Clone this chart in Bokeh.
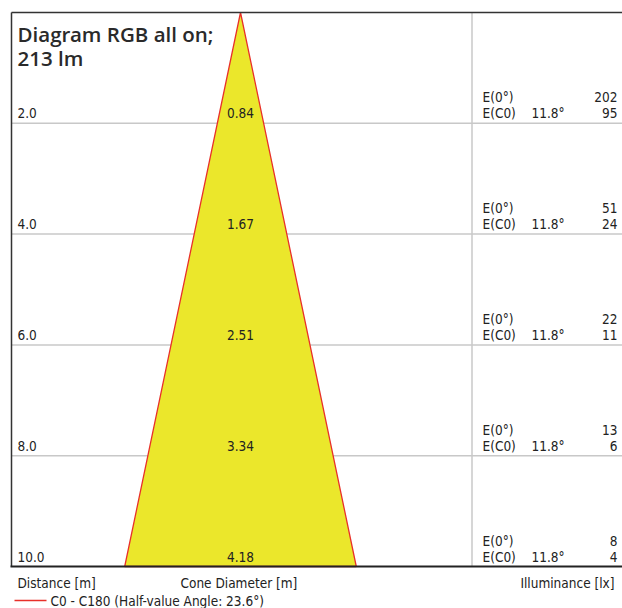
from bokeh.plotting import figure
from bokeh.models import Range1d, ColumnDataSource
from bokeh.core.properties import value
from bokeh.embed import file_html
from bokeh.resources import INLINE

# ---- data ----
title_lines = ["Diagram RGB all on;", "213 lm"]
distances = [2.0, 4.0, 6.0, 8.0, 10.0]
distance_labels = ["2.0", "4.0", "6.0", "8.0", "10.0"]
diameters = [0.84, 1.67, 2.51, 3.34, 4.18]
diameter_labels = ["0.84", "1.67", "2.51", "3.34", "4.18"]
e_0 = [202, 51, 22, 13, 8]
e_c0 = [95, 24, 11, 6, 4]
half_angle_label = "11.8°"
legend_label = "C0 - C180 (Half-value Angle: 23.6°)"
axis_labels = ["Distance [m]", "Cone Diameter [m]", "Illuminance [lx]"]

W, H = 622, 608
PX = 55.4  # pixels per metre
x0 = -240 / PX
x1 = x0 + W / PX
y_top = -12 / PX
y_bot = y_top + H / PX

def sx(px):
    return x0 + px / PX

p = figure(width=W, height=H, output_backend="svg", toolbar_location=None,
           x_range=Range1d(x0, x1), y_range=Range1d(y_bot, y_top),
           min_border=0, outline_line_color=None)
p.axis.visible = False
p.grid.visible = False
p.background_fill_color = "white"
p.border_fill_color = "white"

left_x = sx(11)
right_x = x1
sep_x = sx(471.5)
dmax = distances[-1]
FONT = value("DejaVu Sans Condensed")

# grid lines
for d in distances[:-1]:
    p.line([left_x, right_x], [d, d], line_color="#c8c8c8", line_width=1.5)
# separator
p.line([sep_x, sep_x], [0, dmax], line_color="#c8c8c8", line_width=1.5)

# cone
half = diameters[-1] / 2
p.patch([0, -half, half], [0, dmax, dmax], fill_color="#ebe72b",
        line_color="#e8302a", line_width=1.3)

# frame
p.line([left_x, left_x], [0, dmax], line_color="#333333", line_width=1.5)
p.line([left_x, right_x], [0, 0], line_color="#333333", line_width=1.5)
p.line([sx(10), right_x], [dmax, dmax], line_color="#222222", line_width=2)

# title
p.text(x=[sx(17)] * 2, y=[0, 0], text=title_lines, y_offset=[21, 45],
       text_font=value("Open Sans SemiBold, Open Sans"), text_font_size="20.5px",
       text_color="#2a2a2a", text_baseline="alphabetic")

n = len(distances)
src = ColumnDataSource(dict(
    d=distances, dl=distance_labels, dia=diameter_labels,
    e0=[str(v) for v in e_0], ec=[str(v) for v in e_c0],
    lx=[sx(17)] * n, cx=[0] * n, ex=[sx(482)] * n,
    ax=[sx(531)] * n, vx=[sx(617)] * n,
    l0=["E(0°)"] * n, lc=["E(C0)"] * n, ang=[half_angle_label] * n))

common = dict(text_font=FONT, text_font_size="13.5px", text_color="#222222",
              text_baseline="alphabetic")
p.text(x="lx", y="d", text="dl", source=src, y_offset=-10, **common)
p.text(x="cx", y="d", text="dia", source=src, y_offset=-10, text_align="center", **common)
p.text(x="ex", y="d", text="l0", source=src, y_offset=-26, **common)
p.text(x="ex", y="d", text="lc", source=src, y_offset=-10, **common)
p.text(x="ax", y="d", text="ang", source=src, y_offset=-10, **common)
p.text(x="vx", y="d", text="e0", source=src, y_offset=-26, text_align="right", **common)
p.text(x="vx", y="d", text="ec", source=src, y_offset=-10, text_align="right", **common)

# bottom labels
p.text(x=[sx(17), sx(180), sx(614)], y=[dmax] * 3, text=axis_labels,
       y_offset=[16, 16, 16], text_align=["left", "left", "right"], **common)

# legend
p.line([sx(14), sx(46)], [dmax + 34 / PX] * 2, line_color="#e8302a", line_width=1.3)
p.text(x=[sx(50)], y=[dmax], text=[legend_label], y_offset=[34], **common)

open("out.html", "w").write(file_html(p, INLINE))
